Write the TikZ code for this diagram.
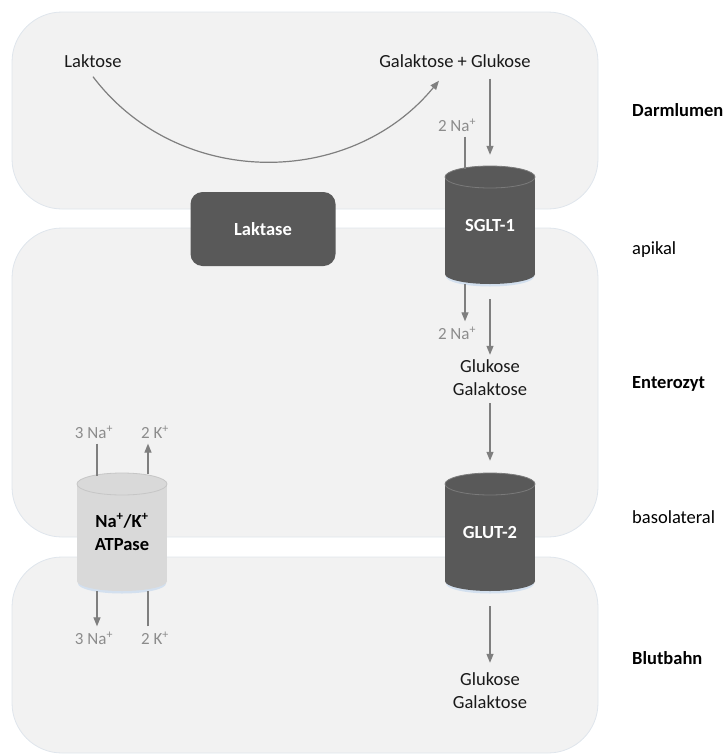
\documentclass[tikz,border=0pt]{standalone}
\usepackage{fontspec}
\setmainfont{Carlito}
\usetikzlibrary{arrows.meta,positioning}

\definecolor{regionfill}{HTML}{F2F2F2}
\definecolor{regionedge}{HTML}{DFE5EC}
\definecolor{protein}{HTML}{595959}
\definecolor{proteinedge}{HTML}{7A7A7A}
\definecolor{pumpgray}{HTML}{D9D9D9}
\definecolor{pumpedge}{HTML}{C6C6C6}
\definecolor{flowgray}{HTML}{7F7F7F}
\definecolor{iongray}{HTML}{8C8C8C}
\definecolor{glow}{HTML}{D3E0EF}

\tikzset{
  region/.style={fill=regionfill, draw=regionedge, line width=0.8pt, rounded corners=50pt},
  flow/.style={draw=flowgray, line width=1.2pt, -{Triangle[length=9pt,width=7pt]}},
  ionline/.style={draw=flowgray, line width=1.2pt},
  sugar/.style={font=\fontsize{18.5}{23}\selectfont, text=black!90, align=center, inner sep=1pt},
  ion/.style={font=\fontsize{17}{20}\selectfont, text=iongray, inner sep=1pt},
  zone/.style={font=\fontsize{18.5}{23}\selectfont, anchor=west, inner sep=0pt},
  enzyme/.style={fill=protein, rounded corners=12pt, minimum width=145pt, minimum height=74pt,
    text=white, font=\bfseries\fontsize{18.5}{23}\selectfont},
  channel/.style={minimum width=90pt, minimum height=118pt, inner sep=0pt, align=center,
    font=\bfseries\fontsize{18.5}{23}\selectfont},
}

% transporter drawn as a standing cylinder: name, x, y, fill, rim, label
\newcommand{\drum}[6]{%
  \fill[glow] (#2,#3+51.5) ellipse[x radius=44, y radius=10];
  \fill[#4] (#2-45,#3-48) rectangle (#2+45,#3+49);
  \fill[#4] (#2,#3+49) ellipse[x radius=45, y radius=10];
  \filldraw[fill=#4, draw=#5, line width=0.8pt] (#2,#3-48) ellipse[x radius=45, y radius=11];
  \node[channel] (#1) at (#2,#3) {#6};
}

\begin{document}
\begin{tikzpicture}[x=1pt, y=-1pt]
  \useasboundingbox (0,0) rectangle (724,755);

  % lumen, cell, blood
  \draw[region] (12,12) rectangle (598,209);
  \draw[region] (12,228) rectangle (598,537);
  \draw[region] (12,557) rectangle (598,753);

  % zone labels
  \node[zone] (lumen) at (632,110) {\bfseries Darmlumen};
  \node[zone] (apical) at (632,250) {apikal};
  \node[zone] (cell) at (632,384) {\bfseries Enterozyt};
  \node[zone] (baso) at (632,517) {basolateral};
  \node[zone] (blood) at (632,658) {\bfseries Blutbahn};

  % enzyme and transporters
  \node[enzyme] (laktase) at (263,229) {Laktase};
  \drum{sglt}{490}{225}{protein}{proteinedge}{\textcolor{white}{SGLT-1}}
  \drum{glut}{490}{532}{protein}{proteinedge}{\textcolor{white}{GLUT-2}}
  \drum{pump}{122}{532}{pumpgray}{pumpedge}{Na\textsuperscript{+}/K\textsuperscript{+}\\ATPase}

  % substrates
  \node[sugar] (lak) at (93,61) {Laktose};
  \node[sugar] (gg) at (455,61) {Galaktose + Glukose};
  \node[sugar] (glu1) at (490,378) {Glukose\\Galaktose};
  \node[sugar] (glu2) at (490,691) {Glukose\\Galaktose};

  % ions
  \node[ion] (na1) at (457,125) {2 Na\textsuperscript{+}};
  \node[ion] (na2) at (457,333) {2 Na\textsuperscript{+}};
  \node[ion] (na3) at (94,432) {3 Na\textsuperscript{+}};
  \node[ion] (k1) at (155,432) {2 K\textsuperscript{+}};
  \node[ion] (na4) at (94,638) {3 Na\textsuperscript{+}};
  \node[ion] (k2) at (155,638) {2 K\textsuperscript{+}};

  % hydrolysis
  \draw[flow] ([yshift=-8pt]lak.south) .. controls (178,189) and (350,189) .. ([xshift=-16pt,yshift=-12pt]gg.south);

  % apical uptake
  \draw[flow] ([xshift=35pt,yshift=-10pt]gg.south) -- ([yshift=11pt]sglt.north);
  \draw[ionline] ([xshift=8pt,yshift=-4pt]na1.south) -- ([xshift=-25pt,yshift=-3pt]sglt.north);
  \draw[flow] ([xshift=-25pt]sglt.south) -- ([xshift=8pt,yshift=4pt]na2.north);
  \draw[flow] ([yshift=-15pt]sglt.south) -- ([yshift=4pt]glu1.north);

  % basolateral exit
  \draw[flow] ([yshift=-6pt]glu1.south) -- ([yshift=12pt]glut.north);
  \draw[flow] ([yshift=-15pt]glut.south) -- ([yshift=9pt]glu2.north);

  % sodium-potassium pump
  \draw[ionline] ([xshift=3pt,yshift=-4pt]na3.south) -- ([xshift=-25pt,yshift=-3pt]pump.north);
  \draw[flow] ([xshift=26pt,yshift=-1pt]pump.north) -- ([xshift=-7pt,yshift=-4pt]k1.south);
  \draw[flow] ([xshift=-25pt]pump.south) -- ([xshift=3pt,yshift=4pt]na4.north);
  \draw[ionline] ([xshift=-7pt,yshift=4pt]k2.north) -- ([xshift=26pt]pump.south);
\end{tikzpicture}
\end{document}
